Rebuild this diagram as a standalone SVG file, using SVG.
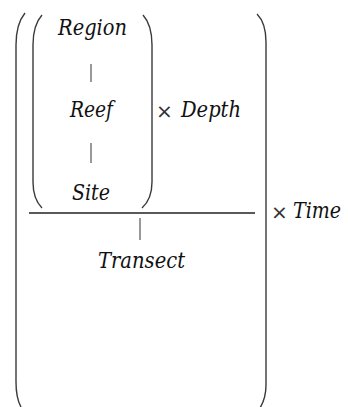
<svg xmlns="http://www.w3.org/2000/svg" width="348" height="407" viewBox="0 0 348 407">
<style>
.t{font-family:"DejaVu Serif","Liberation Serif",serif;font-style:italic;font-size:22px;fill:#111}
.x{font-family:"DejaVu Sans","Liberation Sans",sans-serif;font-size:20px;fill:#333}
.p{fill:none;stroke:#3a3a3a;stroke-width:1.4}
.k{stroke:#555;stroke-width:1.2}
</style>
<rect width="348" height="407" fill="#fff"/>
<g id="connectors">
<line class="k" x1="91" y1="64" x2="91" y2="82"/>
<line class="k" x1="91" y1="143" x2="91" y2="163"/>
<line class="k" x1="140" y1="218" x2="140" y2="240"/>
<line x1="29" y1="213" x2="255" y2="213" stroke="#222" stroke-width="1.6"/>
</g>
<g id="brackets">
<path class="p" d="M25 13 Q16 24 16 45 L16 382 Q16 398 21 407"/>
<path class="p" d="M257 14 Q266 23 266 42 L266 385 Q266 398 260 408"/>
<path class="p" d="M42 15 Q33 25 33 45 L33 182 Q33 199 42 208"/>
<path class="p" d="M143 15 Q152 25 152 45 L152 182 Q152 199 142 208"/>
</g>
<g id="region"><text class="t" x="58" y="35" textLength="69" lengthAdjust="spacingAndGlyphs">Region</text></g>
<g id="reef"><text class="t" x="70" y="117" textLength="43" lengthAdjust="spacingAndGlyphs">Reef</text></g>
<g id="site"><text class="t" x="72" y="200" textLength="38" lengthAdjust="spacingAndGlyphs">Site</text></g>
<g id="depth"><text class="x" x="156" y="118">×</text><text class="t" x="181" y="117" textLength="60" lengthAdjust="spacingAndGlyphs">Depth</text></g>
<g id="time"><text class="x" x="271" y="219">×</text><text class="t" x="293" y="218" textLength="48" lengthAdjust="spacingAndGlyphs">Time</text></g>
<g id="transect"><text class="t" x="98" y="268" textLength="87" lengthAdjust="spacingAndGlyphs">Transect</text></g>
</svg>
